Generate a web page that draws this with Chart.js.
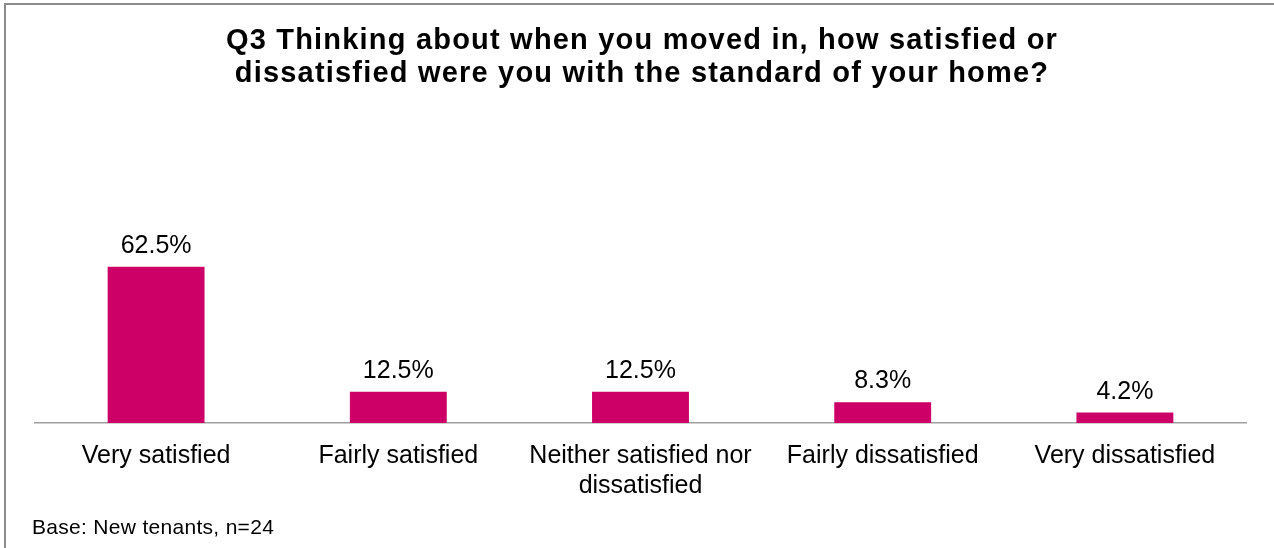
<!DOCTYPE html>
<html>
<head>
<meta charset="utf-8">
<script src="https://cdn.jsdelivr.net/npm/chart.js@4/dist/chart.umd.min.js"></script>
<style>
    html, body { margin: 0; padding: 0; background: #fff; }
    #container { width: 1274px; height: 548px; position: relative; }
</style>
</head>
<body>
<div id="container"><canvas id="graph_q3"></canvas></div>
<script>
// answers and shares of tenants, %
var labelArr = ['Very satisfied', 'Fairly satisfied', ['Neither satisfied nor', 'dissatisfied'], 'Fairly dissatisfied', 'Very dissatisfied'];
var percentArr = [62.5, 12.5, 12.5, 8.3, 4.2];
var titleLines = ['Q3 Thinking about when you moved in, how satisfied or', 'dissatisfied were you with the standard of your home?'];
var baseNote = 'Base: New tenants, n=24';

var fontName = '"Liberation Sans", Arial, sans-serif';

// frame, title and the base note
var framePlugin = {
    id: 'frame',
    afterDraw: function(chart) {
        var ctx = chart.ctx;
        ctx.save();
        ctx.strokeStyle = '#8c8c8c';
        ctx.lineWidth = 2;
        ctx.strokeRect(5, 4, 1280, 560);

        ctx.fillStyle = '#000';
        ctx.textAlign = 'center';
        ctx.textBaseline = 'alphabetic';
        ctx.font = 'bold 29px ' + fontName;
        ctx.letterSpacing = '1.2px';
        ctx.fillText(titleLines[0], 642, 49);
        ctx.fillText(titleLines[1], 642, 82);

        ctx.font = '21px ' + fontName;
        ctx.letterSpacing = '0.3px';
        ctx.textAlign = 'left';
        ctx.fillText(baseNote, 32, 534);
        ctx.restore();
    }
};

// value above every bar
var valuePlugin = {
    id: 'values',
    afterDatasetsDraw: function(chart) {
        var ctx = chart.ctx;
        var meta = chart.getDatasetMeta(0);
        ctx.save();
        ctx.fillStyle = '#000';
        ctx.font = '25px ' + fontName;
        ctx.textAlign = 'center';
        ctx.textBaseline = 'alphabetic';
        meta.data.forEach(function(bar, i) {
            ctx.fillText(percentArr[i].toFixed(1) + '%', bar.x, bar.y - 14);
        });
        ctx.restore();
    }
};

var data = {
    labels: labelArr,
    datasets: [{
        label: 'Q3',
        backgroundColor: 'rgb(204, 0, 102)',
        borderWidth: 0,
        data: percentArr,
        categoryPercentage: 1,
        barPercentage: 0.4
    }]
};

var config = {
    type: 'bar',
    data: data,
    options: {
        responsive: false,
        animation: false,
        layout: { padding: { left: 35, right: 28, top: 173, bottom: 29 } },
        plugins: {
            legend: { display: false },
            tooltip: { enabled: false },
            title: { display: false }
        },
        scales: {
            x: {
                grid: { display: false, drawTicks: false },
                border: { color: '#a0a0a0', width: 1.5 },
                ticks: {
                    color: '#000',
                    padding: 18,
                    maxRotation: 0,
                    autoSkip: false,
                    font: { family: fontName, size: 25, lineHeight: 1.2 }
                }
            },
            y: {
                display: false,
                min: 0,
                max: 100
            }
        }
    },
    plugins: [valuePlugin, framePlugin]
};

var canvas = document.getElementById('graph_q3');
canvas.width = 1274;
canvas.height = 548;
var myChart = new Chart(canvas, config);
</script>
</body>
</html>
